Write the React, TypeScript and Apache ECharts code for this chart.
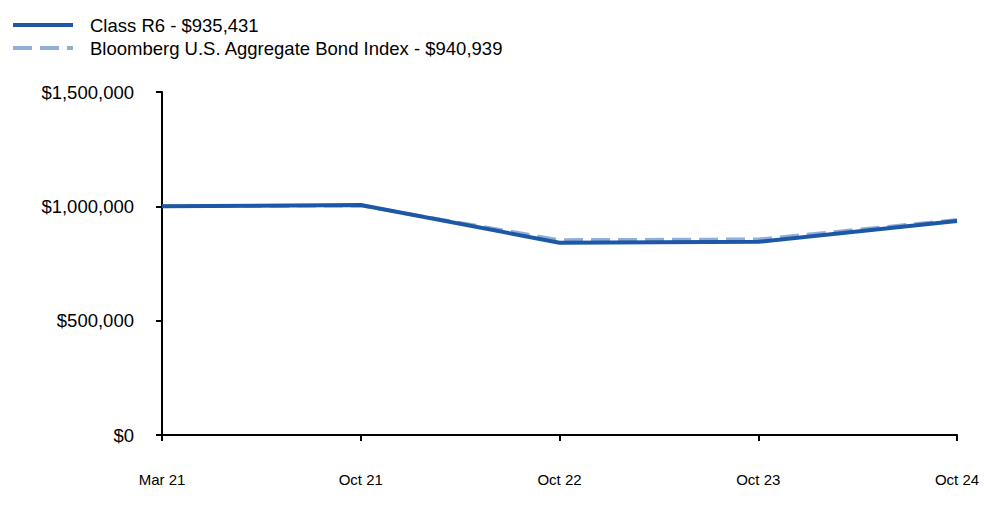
import React, { useEffect, useRef } from "react";
import * as echarts from "echarts";

const categories = ["Mar 21", "Oct 21", "Oct 22", "Oct 23", "Oct 24"];
const classR6 = [1000000, 1006000, 841000, 845000, 935431];
const bondIndex = [1000000, 1003000, 853000, 856000, 940939];
const seriesNames = ["Class R6 - $935,431", "Bloomberg U.S. Aggregate Bond Index - $940,939"];
const yTicks = { min: 0, max: 1500000, interval: 500000 };

const SOLID = "#1C58A6";
const DASH = "#8FAEDA";
const FONT = "'Liberation Sans', Arial, sans-serif";

export default function App() {
  const ref = useRef<HTMLDivElement>(null);
  useEffect(() => {
    if (!ref.current) return;
    const chart = echarts.init(ref.current, null, { renderer: "svg" });
    chart.setOption({
      animation: false,
      backgroundColor: "#ffffff",
      textStyle: { fontFamily: FONT },
      graphic: [
        { type: "line", shape: { x1: 13, y1: 25, x2: 73, y2: 25 }, style: { stroke: SOLID, lineWidth: 4 } },
        { type: "text", x: 90, y: 25, style: { text: seriesNames[0], fontSize: 18.5, fontFamily: FONT, fill: "#000", verticalAlign: "middle" } },
        { type: "line", shape: { x1: 13, y1: 48, x2: 73, y2: 48 }, style: { stroke: DASH, lineWidth: 4, lineDash: [19, 8] } },
        { type: "text", x: 90, y: 48, style: { text: seriesNames[1], fontSize: 18.5, fontFamily: FONT, fill: "#000", verticalAlign: "middle" } },
      ],
      grid: { left: 162, right: 43, top: 92, bottom: 88, containLabel: false },
      xAxis: {
        type: "category",
        data: categories,
        boundaryGap: false,
        axisLine: { lineStyle: { color: "#000", width: 2 } },
        axisTick: { show: true, length: 6, lineStyle: { color: "#000", width: 2 }, alignWithLabel: true },
        axisLabel: { color: "#000", fontSize: 15, margin: 37, fontFamily: FONT },
        splitLine: { show: false },
      },
      yAxis: {
        type: "value",
        min: yTicks.min,
        max: yTicks.max,
        interval: yTicks.interval,
        axisLine: { show: true, lineStyle: { color: "#000", width: 2 } },
        axisTick: { show: true, length: 6, lineStyle: { color: "#000", width: 2 } },
        axisLabel: {
          color: "#000",
          fontSize: 18.5,
          margin: 28,
          fontFamily: FONT,
          formatter: (v: number) => "$" + v.toLocaleString("en-US"),
        },
        splitLine: { show: false },
      },
      series: [
        {
          name: seriesNames[1],
          type: "line",
          data: bondIndex,
          symbol: "none",
          z: 2,
          lineStyle: { color: DASH, width: 3.5, type: [19, 8] },
        },
        {
          name: seriesNames[0],
          type: "line",
          data: classR6,
          symbol: "none",
          z: 3,
          lineStyle: { color: SOLID, width: 4 },
        },
      ],
    });
    return () => chart.dispose();
  }, []);
  return <div ref={ref} style={{ width: 1000, height: 523, position: "absolute", left: 0, top: 0 }} />;
}
